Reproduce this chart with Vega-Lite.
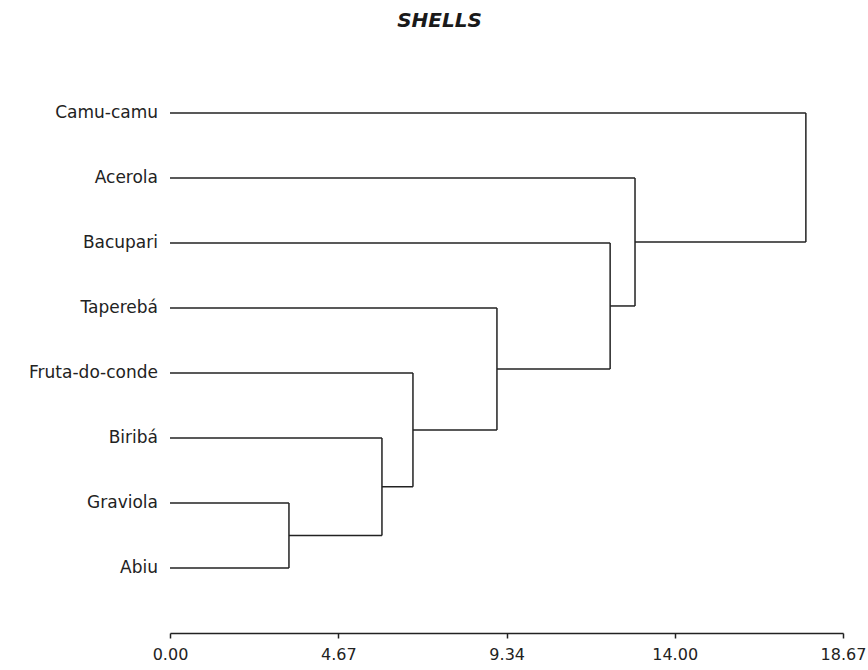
{
  "$schema": "https://vega.github.io/schema/vega-lite/v6.json",
  "autosize": {"type": "none"},
  "padding": {"left": 170, "top": 48, "right": 25, "bottom": 37},
  "width": 673,
  "height": 585,
  "background": "white",
  "config": {"view": {"stroke": null}, "font": "DejaVu Sans"},
  "title": {
    "text": "SHELLS",
    "font": "DejaVu Sans",
    "fontSize": 20,
    "fontWeight": "bold",
    "fontStyle": "italic",
    "color": "#1a1a1a",
    "anchor": "middle",
    "dx": -67,
    "offset": 17
  },
  "data": {
    "values": [
      {"label": "Camu-camu", "x": 0, "x2": 17.64, "y": 1, "y2": 1},
      {"label": "Acerola", "x": 0, "x2": 12.9, "y": 2, "y2": 2},
      {"label": "Bacupari", "x": 0, "x2": 12.21, "y": 3, "y2": 3},
      {"label": "Taperebá", "x": 0, "x2": 9.07, "y": 4, "y2": 4},
      {"label": "Fruta-do-conde", "x": 0, "x2": 6.74, "y": 5, "y2": 5},
      {"label": "Biribá", "x": 0, "x2": 5.88, "y": 6, "y2": 6},
      {"label": "Graviola", "x": 0, "x2": 3.3, "y": 7, "y2": 7},
      {"label": "Abiu", "x": 0, "x2": 3.3, "y": 8, "y2": 8},
      {"label": null, "x": 3.3, "x2": 5.88, "y": 7.5, "y2": 7.5},
      {"label": null, "x": 5.88, "x2": 6.74, "y": 6.75, "y2": 6.75},
      {"label": null, "x": 6.74, "x2": 9.07, "y": 5.875, "y2": 5.875},
      {"label": null, "x": 9.07, "x2": 12.21, "y": 4.9375, "y2": 4.9375},
      {"label": null, "x": 12.21, "x2": 12.9, "y": 3.96875, "y2": 3.96875},
      {"label": null, "x": 12.9, "x2": 17.64, "y": 2.984375, "y2": 2.984375},
      {"label": null, "x": 3.3, "x2": 3.3, "y": 7, "y2": 8},
      {"label": null, "x": 5.88, "x2": 5.88, "y": 6, "y2": 7.5},
      {"label": null, "x": 6.74, "x2": 6.74, "y": 5, "y2": 6.75},
      {"label": null, "x": 9.07, "x2": 9.07, "y": 4, "y2": 5.875},
      {"label": null, "x": 12.21, "x2": 12.21, "y": 3, "y2": 4.9375},
      {"label": null, "x": 12.9, "x2": 12.9, "y": 2, "y2": 3.96875},
      {"label": null, "x": 17.64, "x2": 17.64, "y": 1, "y2": 2.984375}
    ]
  },
  "layer": [
    {
      "mark": {"type": "rule", "color": "#222222", "strokeWidth": 1.5},
      "encoding": {
        "x": {
          "field": "x",
          "type": "quantitative",
          "scale": {"domain": [0, 18.67], "nice": false, "zero": false},
          "axis": {
            "title": null,
            "grid": false,
            "values": [0, 4.67, 9.34, 14.0, 18.67],
            "format": ".2f",
            "labelFlush": false,
            "domainColor": "#222222",
            "domainWidth": 1.5,
            "tickColor": "#222222",
            "tickWidth": 1.5,
            "tickSize": 5,
            "labelPadding": 8,
            "labelFont": "DejaVu Sans",
            "labelFontSize": 16,
            "labelColor": "#222222"
          }
        },
        "x2": {"field": "x2"},
        "y": {
          "field": "y",
          "type": "quantitative",
          "scale": {"domain": [0, 9], "nice": false, "zero": false, "reverse": true},
          "axis": null
        },
        "y2": {"field": "y2"}
      }
    },
    {
      "transform": [{"filter": "datum.label != null"}],
      "mark": {"type": "text", "align": "right", "baseline": "middle", "dx": -12, "font": "DejaVu Sans", "fontSize": 17, "color": "#222222"},
      "encoding": {
        "x": {"field": "x", "type": "quantitative"},
        "y": {"field": "y", "type": "quantitative"},
        "text": {"field": "label"}
      }
    }
  ]
}
